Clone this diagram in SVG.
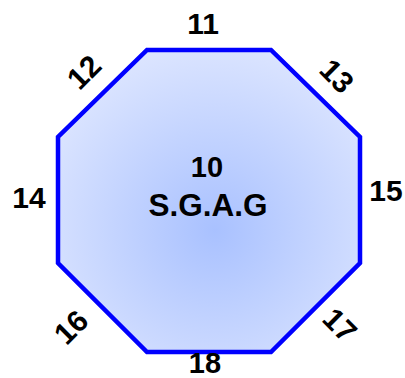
<svg xmlns="http://www.w3.org/2000/svg" width="405" height="378" viewBox="0 0 405 378">
<style>
.lbl{font-family:"Liberation Sans",Arial,sans-serif;font-weight:bold;font-size:30px;fill:#000;text-anchor:middle;dominant-baseline:central}
.ctr{font-size:29px}
.big{font-size:31.5px}
</style>
<defs>
<radialGradient id="g" cx="215" cy="230" r="200" gradientUnits="userSpaceOnUse">
<stop offset="0" stop-color="#a9c1ff"/>
<stop offset="1" stop-color="#dfe7ff"/>
</radialGradient>
</defs>
<g id="octagon">
<polygon points="147,50 271,50 360,137 360,263 271,352 147,352 58,263 58,137" fill="url(#g)" stroke="#0000ff" stroke-width="4.5"/>
<text class="lbl ctr" x="207" y="167">10</text>
<text class="lbl big" x="208" y="205">S.G.A.G</text>
</g>
<g id="labels">
<text class="lbl" x="203" y="23">11</text>
<text class="lbl" x="84" y="72" transform="rotate(-45 84 72)">12</text>
<text class="lbl" x="337" y="76" transform="rotate(45 337 76)">13</text>
<text class="lbl" x="29" y="197">14</text>
<text class="lbl" x="386" y="190">15</text>
<text class="lbl" x="71" y="327" transform="rotate(-45 71 327)">16</text>
<text class="lbl" x="340" y="325" transform="rotate(45 340 325)">17</text>
<text class="lbl ctr" x="205" y="363">18</text>
</g>
</svg>
